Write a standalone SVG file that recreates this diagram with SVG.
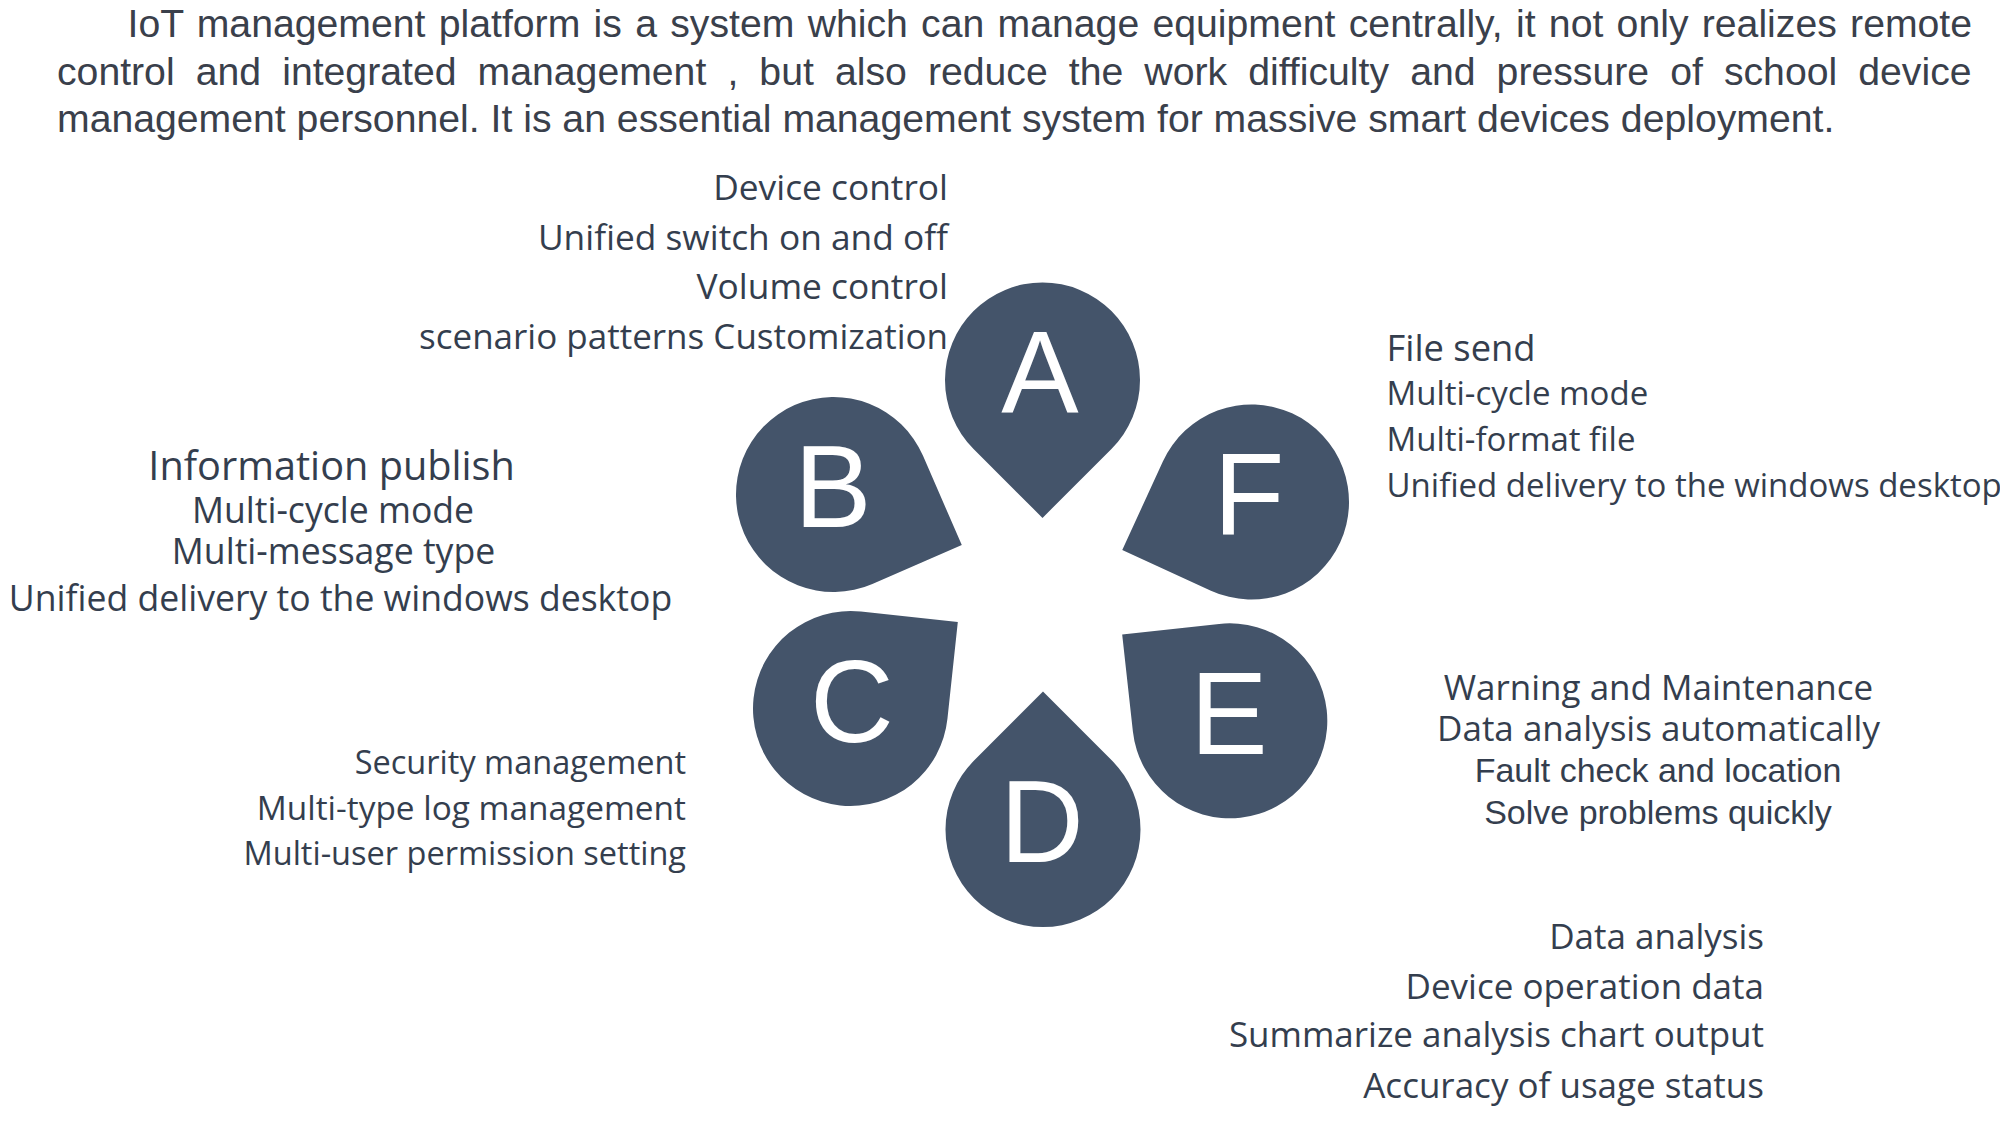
<svg xmlns="http://www.w3.org/2000/svg" xmlns:xlink="http://www.w3.org/1999/xlink" width="2000" height="1133" viewBox="0 0 2000 1133">
<style>
.bg{fill:#ffffff}
.drop{fill:#44546a}
.ltr{font-family:"Liberation Sans",Arial,sans-serif;font-size:116px;fill:#ffffff;text-anchor:middle}
.head{font-family:"Liberation Sans",Arial,sans-serif;font-size:39.2px;fill:#3a404b}
.lbl{font-family:"Open Sans","Noto Sans",sans-serif;fill:#343e4e}
.arl{font-family:"Liberation Sans",Arial,sans-serif;fill:#343e4e}
</style>
<defs>
<path id="drop" d="M68.94,-68.94 L137.89,0 L68.94,68.94 A97.5,97.5 0 1 1 68.94,-68.94 Z"/>
</defs>
<rect class="bg" x="0" y="0" width="2000" height="1133"/>
<g id="header">
<text class="head" x="127.5" y="37" word-spacing="2.4">IoT management platform is a system which can manage equipment centrally, it not only realizes remote</text>
<text class="head" x="57" y="84.5" word-spacing="10.2">control and integrated management , but also reduce the work difficulty and pressure of school device</text>
<text class="head" x="57" y="132">management personnel. It is an essential management system for massive smart devices deployment.</text>
</g>
<g id="connectors"></g>
<g id="node-A">
<use xlink:href="#drop" class="drop" transform="translate(1042.5,380) rotate(90)"/>
<text class="ltr" x="1040" y="413">A</text>
</g>
<g id="node-B">
<use xlink:href="#drop" class="drop" transform="translate(833.5,494.5) rotate(21.5)"/>
<text class="ltr" x="833" y="527">B</text>
</g>
<g id="node-C">
<use xlink:href="#drop" class="drop" transform="translate(850.5,708.5) rotate(-38.9)"/>
<text class="ltr" x="852" y="742">C</text>
</g>
<g id="node-D">
<use xlink:href="#drop" class="drop" transform="translate(1043,829.5) rotate(-90)"/>
<text class="ltr" x="1042" y="862">D</text>
</g>
<g id="node-E">
<use xlink:href="#drop" class="drop" transform="translate(1229.8,720.8) rotate(-141.3)"/>
<text class="ltr" x="1229" y="754">E</text>
</g>
<g id="node-F">
<use xlink:href="#drop" class="drop" transform="translate(1251.5,502) rotate(159.6)"/>
<text class="ltr" x="1249" y="535">F</text>
</g>
<g id="label-A" class="lbl" font-size="35.3" text-anchor="end">
<text x="948" y="200">Device control</text>
<text x="948" y="249.5">Unified switch on and off</text>
<text x="948" y="298.5">Volume control</text>
<text x="948" y="349" font-size="35">scenario patterns Customization</text>
</g>
<g id="label-B" class="lbl" text-anchor="middle">
<text x="331.6" y="480" font-size="39.7">Information publish</text>
<text x="333" y="522.5" font-size="35.6">Multi-cycle mode</text>
<text x="333.5" y="563.5" font-size="35.6">Multi-message type</text>
<text x="340.5" y="610.5" font-size="35.6">Unified delivery to the windows desktop</text>
</g>
<g id="label-C" class="lbl" font-size="32.5" text-anchor="end">
<text x="686" y="774">Security management</text>
<text x="686" y="820" font-size="33.4">Multi-type log management</text>
<text x="686" y="864.5">Multi-user permission setting</text>
</g>
<g id="label-D" class="lbl" font-size="35" text-anchor="end">
<text x="1764" y="948.7">Data analysis</text>
<text x="1764" y="998.5">Device operation data</text>
<text x="1764" y="1047">Summarize analysis chart output</text>
<text x="1764" y="1098">Accuracy of usage status</text>
</g>
<g id="label-E" text-anchor="middle">
<text class="lbl" x="1658.5" y="700" font-size="35">Warning and Maintenance</text>
<text class="lbl" x="1658.5" y="740.8" font-size="35">Data analysis automatically</text>
<text class="arl" x="1658" y="781.6" font-size="34">Fault check and location</text>
<text class="arl" x="1658" y="823.7" font-size="34">Solve problems quickly</text>
</g>
<g id="label-F" class="lbl">
<text x="1386.5" y="361" font-size="36.3">File send</text>
<text x="1386.5" y="405.4" font-size="33">Multi-cycle mode</text>
<text x="1386.5" y="451.3" font-size="33">Multi-format file</text>
<text x="1386.5" y="497.2" font-size="33">Unified delivery to the windows desktop</text>
</g>
</svg>
